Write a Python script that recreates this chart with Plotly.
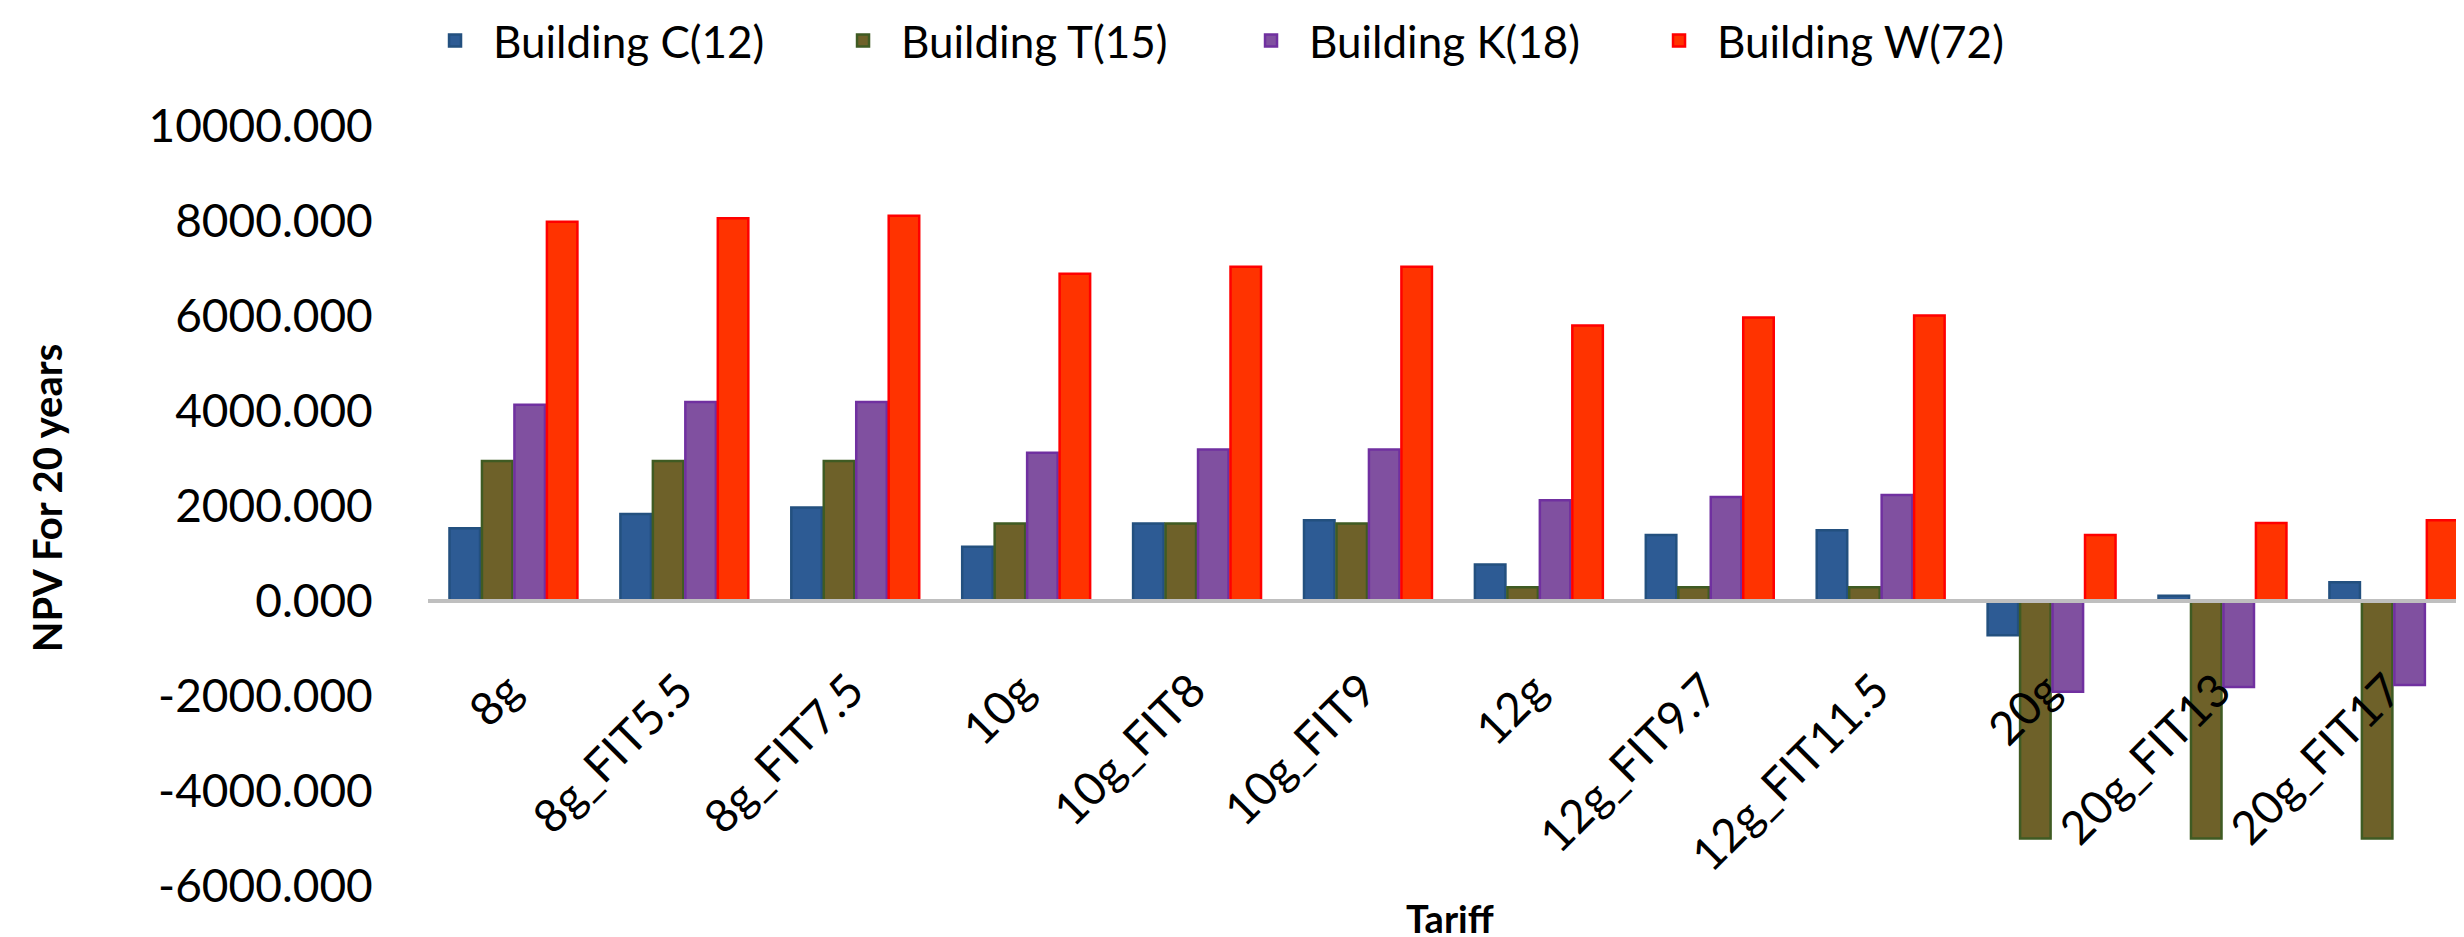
import plotly.graph_objects as go

categories = ["8g", "8g_FIT5.5", "8g_FIT7.5", "10g", "10g_FIT8", "10g_FIT9",
              "12g", "12g_FIT9.7", "12g_FIT11.5", "20g", "20g_FIT13", "20g_FIT17"]
building_c = [1530, 1830, 1970, 1140, 1630, 1700, 770, 1390, 1490, -720, 110, 395]
building_t = [2950, 2950, 2950, 1630, 1630, 1630, 290, 290, 290, -5000, -5000, -5000]
building_k = [4130, 4190, 4190, 3120, 3190, 3190, 2120, 2190, 2230, -1910, -1810, -1770]
building_w = [7985, 8060, 8110, 6890, 7035, 7035, 5800, 5970, 6010, 1390, 1640, 1700]
series_names = ["Building C(12)", "Building T(15)", "Building K(18)", "Building W(72)"]
y_ticks = [-6000, -4000, -2000, 0, 2000, 4000, 6000, 8000, 10000]

fills = ["#2D5B94", "#6E6129", "#8050A0", "#FF3300"]
borders = ["#23507F", "#3F5B23", "#7030A0", "#FF0000"]

FONT = "Lato"

fig = go.Figure()
for name, vals, fc, lc in zip(series_names, [building_c, building_t, building_k, building_w], fills, borders):
    fig.add_trace(go.Bar(
        x=categories, y=vals, name=name,
        marker=dict(color=fc, line=dict(color=lc, width=2.5)),
    ))

fig.update_layout(
    width=2464, height=937,
    margin=dict(l=420, r=0, t=118, b=59),
    plot_bgcolor="white", paper_bgcolor="white",
    barmode="group", bargap=0.24, bargroupgap=0.06,
    font=dict(family=FONT, color="black"),
    showlegend=True,
    legend=dict(
        orientation="h", xref="container", yref="container",
        x=0.166, xanchor="left", y=0.965, yanchor="middle",
        entrywidth=327, entrywidthmode="pixels", itemwidth=66,
        font=dict(size=44, family=FONT, color="black"),
        traceorder="normal",
    ),
    xaxis=dict(
        anchor="free", position=0.375,
        range=[-0.5, 11.46],
        showline=True, linecolor="#BFBFBF", linewidth=4,
        showgrid=False, zeroline=False,
        ticks="outside", ticklen=42, tickcolor="rgba(0,0,0,0)",
        ticklabelshift=-5,
        tickangle=-45, tickfont=dict(size=46, family=FONT, color="black"),
    ),
    yaxis=dict(
        range=[-6000, 10000],
        tickvals=y_ticks, ticktext=[f"{v:.3f}" for v in y_ticks],
        showgrid=False, zeroline=False, showline=False,
        ticks="outside", ticklen=45, tickcolor="rgba(0,0,0,0)",
        tickfont=dict(size=46, family=FONT, color="black"),
    ),
    annotations=[
        dict(text="<b>NPV For 20 years</b>", xref="paper", yref="paper",
             x=-0.186, y=0.51, xanchor="center", yanchor="middle",
             textangle=-90, showarrow=False,
             font=dict(size=40, family=FONT, color="black")),
        dict(text="<b>Tariff</b>", xref="paper", yref="paper",
             x=0.5, y=-0.042, xanchor="center", yanchor="middle",
             showarrow=False, font=dict(size=38, family=FONT, color="black")),
    ],
)

fig.write_html("out.html")
